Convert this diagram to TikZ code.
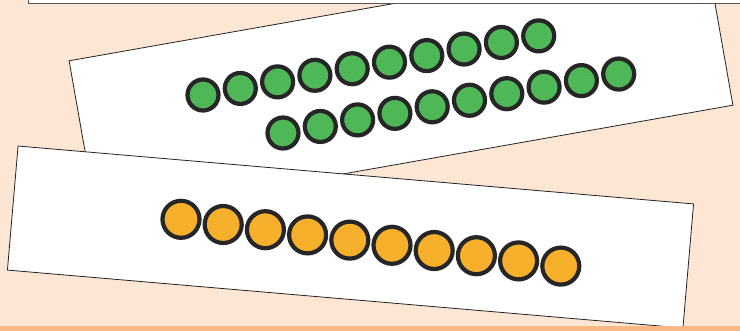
\documentclass[tikz,border=0pt]{standalone}
\usetikzlibrary{patterns}
\definecolor{bgpeach}{HTML}{FDE6D3}
\definecolor{strip}{HTML}{F9B886}
\definecolor{beadgreen}{HTML}{55BF5E}
\definecolor{hatchgreen}{HTML}{43A94D}
\definecolor{beadorange}{HTML}{FBB833}
\definecolor{hatchorange}{HTML}{F0A21F}
\definecolor{beadline}{HTML}{262626}
\definecolor{cardline}{HTML}{222222}
\definecolor{topline}{HTML}{555555}
\tikzset{
  card/.style={draw=cardline, line width=0.8pt, fill=white, rectangle, inner sep=0pt},
  greenbead/.style={circle, fill=beadgreen, minimum size=31pt, inner sep=0pt,
    postaction={pattern=north west lines, pattern color=hatchgreen},
    postaction={draw=beadline, line width=4.2pt}},
  orangebead/.style={circle, fill=beadorange, minimum size=37pt, inner sep=0pt,
    postaction={pattern=north west lines, pattern color=hatchorange},
    postaction={draw=beadline, line width=4.2pt}}
}
\begin{document}
\begin{tikzpicture}[x=1pt, y=-1pt]
\useasboundingbox (0,0) rectangle (740,330);
\clip (0,0) rectangle (740,330);
\fill[bgpeach] (0,0) rectangle (740,330);
% green card
\node[card, rotate=10, minimum width=646pt, minimum height=159pt] (greencard) at (401,83) {};
% top card
\node[draw=topline, line width=1.2pt, fill=white, rectangle, inner sep=0pt, anchor=south west,
  minimum width=730pt, minimum height=30pt] (topcard) at (28,4) {};
% orange card
\node[card, rotate=-4.9, minimum width=678pt, minimum height=124.5pt] (orangecard) at (350.5,237) {};
% green beads
\foreach \i in {0,...,9}{
  \node[greenbead] (ga\i) at ({203+37.3*\i},{95-6.57*\i}) {};
}
\foreach \i in {0,...,9}{
  \node[greenbead] (gb\i) at ({283+37.3*\i},{133-6.55*\i}) {};
}
% orange beads
\foreach \i in {0,...,9}{
  \node[orangebead] (ob\i) at ({181+42.2*\i},{219.3+5.2*\i}) {};
}
% bottom strip
\fill[strip] (0,326) rectangle (740,331);
\end{tikzpicture}
\end{document}
